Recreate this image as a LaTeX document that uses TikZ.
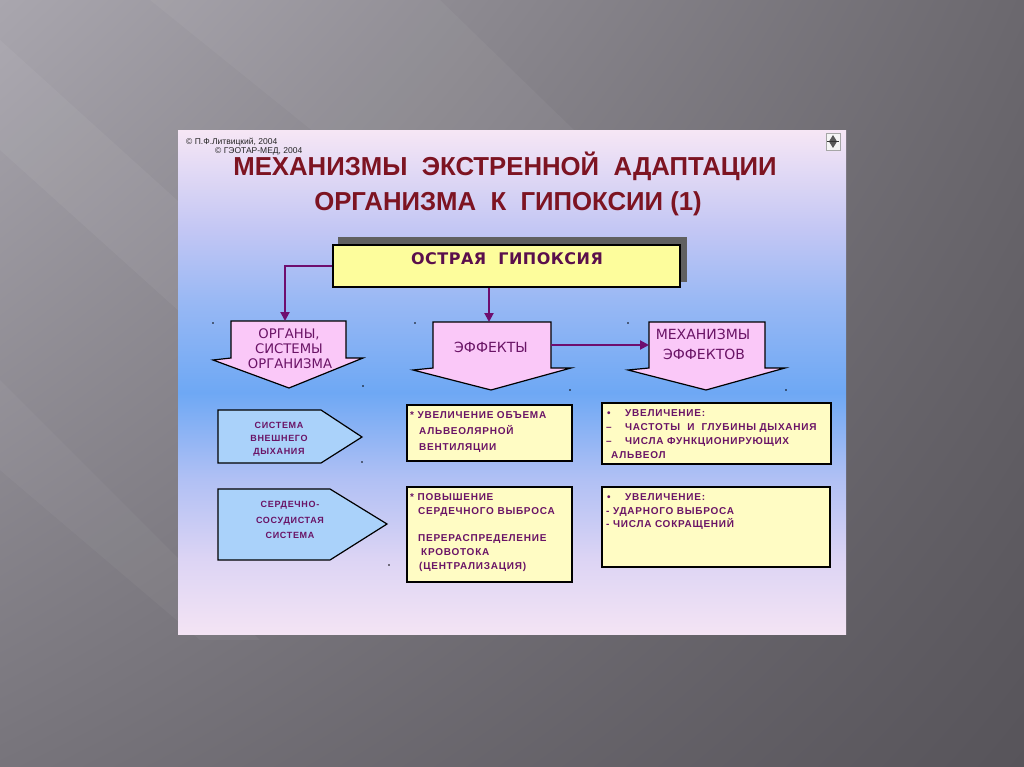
\documentclass[tikz,border=0pt]{standalone}
\usepackage{fontspec}
\setmainfont{Liberation Sans}
\newfontfamily\nar[FakeStretch=0.99]{Liberation Sans}
\newfontfamily\spc[LetterSpace=7.5]{Liberation Sans}
\newfontfamily\wide{DejaVu Sans}
\newfontfamily\widesp[LetterSpace=3]{DejaVu Sans}
\usetikzlibrary{arrows.meta,shadings}
\definecolor{bgUL}{HTML}{A9A6AE}
\definecolor{bgUR}{HTML}{6B686E}
\definecolor{bgLL}{HTML}{77747B}
\definecolor{bgLR}{HTML}{57545A}
\definecolor{titlered}{HTML}{7D1422}
\definecolor{txtpurple}{HTML}{6A1466}
\definecolor{acutetxt}{HTML}{5A0F4C}
\definecolor{connpurple}{HTML}{6E0E6E}
\definecolor{pinkfill}{HTML}{FAC8F8}
\definecolor{bluefill}{HTML}{AAD2FA}
\definecolor{yellowfill}{HTML}{FFFCC4}
\definecolor{acutefill}{HTML}{FDFD9C}
\definecolor{sA}{HTML}{F4E4F4}
\definecolor{sB}{HTML}{DCD4F4}
\definecolor{sC}{HTML}{B0C0F4}
\definecolor{sD}{HTML}{6EA8F4}
\definecolor{sE}{HTML}{98B8F4}
\definecolor{sF}{HTML}{C2C6F4}
\definecolor{sG}{HTML}{F6E6F5}
\pgfdeclareverticalshading{slidegrad}{100bp}{color(0bp)=(sA); color(25bp)=(sA); color(32.5bp)=(sB); color(40.5bp)=(sC); color(49bp)=(sD); color(58bp)=(sE); color(65bp)=(sF); color(75bp)=(sG); color(100bp)=(sG)}
\begin{document}
\begin{tikzpicture}[x=1pt,y=-1pt,
  conn/.style={draw=connpurple, line width=2pt, -{Triangle[length=9pt,width=9pt]}},
  downarrow/.style={draw=black, line width=1.2pt, fill=pinkfill, line join=miter},
  pent/.style={draw=black, line width=1.2pt, fill=bluefill},
  infobox/.style={draw=black, line width=1.2pt, fill=yellowfill},
  boxline/.style={font=\spc\bfseries\fontsize{10}{12}\selectfont, text=txtpurple, anchor=base west, inner sep=0pt},
  pentline/.style={font=\spc\bfseries\fontsize{9}{11}\selectfont, text=txtpurple, anchor=base, inner sep=0pt},
  arrline/.style={font=\wide\fontsize{14}{16}\selectfont, text=txtpurple, anchor=base, inner sep=0pt},
  orgline/.style={font=\wide\fontsize{13.2}{15}\selectfont, text=txtpurple, anchor=base, inner sep=0pt},
  titleline/.style={font=\nar\bfseries\fontsize{26}{30}\selectfont, text=titlered, anchor=base, inner sep=0pt},
  copyline/.style={font=\fontsize{8.5}{9}\selectfont, text=black!85, anchor=base west, inner sep=0pt},
  dot/.style={fill=black, circle, inner sep=0pt, minimum size=1.6pt}]
\useasboundingbox (0,0) rectangle (1024,767);
% background
\shade[upper left=bgUL, upper right=bgUR, lower left=bgLL, lower right=bgLR] (0,0) rectangle (1024,767);
\fill[white, opacity=0.05] (0,40) -- (0,150) -- (300,420) -- (420,420) -- cycle;
\fill[white, opacity=0.045] (150,0) -- (440,0) -- (780,330) -- (560,330) -- cycle;
\fill[white, opacity=0.04] (0,380) -- (0,470) -- (200,640) -- (260,640) -- cycle;
% slide
\shade[shading=slidegrad] (178,131) rectangle (846,634);
% icon
\draw[gray!70, fill=white!92!gray, line width=0.6pt] (826,133) rectangle (840,150);
\fill[gray!70!black] (833,135) -- (837,141.5) -- (833,148) -- (829,141.5) -- cycle;
\draw[gray!40!black, line width=0.6pt] (827,141.5) -- (839,141.5);
% copyright
\node[copyline] (c1) at (186,145) {© П.Ф.Литвицкий, 2004};
\node[copyline] (c2) at (215,154) {© ГЭОТАР-МЕД, 2004};
% title
\node[titleline] (t1) at (505,176) {МЕХАНИЗМЫ\ \ ЭКСТРЕННОЙ\ \ АДАПТАЦИИ};
\node[titleline] (t2) at (508,211) {ОРГАНИЗМА\ \ К\ \ ГИПОКСИИ (1)};
% acute hypoxia box
\fill[gray!75!black] (338,237) rectangle (687,282);
\node[draw=black, line width=2.5pt, fill=acutefill, minimum width=347pt, minimum height=42pt, inner sep=0pt] (acute) at (506.5,266) {};
\node[font=\widesp\bfseries\fontsize{16}{18}\selectfont, text=acutetxt, anchor=base, inner sep=0pt] (acutet) at (507,264) {ОСТРАЯ\ \ ГИПОКСИЯ};
% down arrows
\draw[downarrow] (231,321) -- (346,321) -- (346,358) -- (363,358) -- (289,388) -- (213,360) -- (231,358) -- cycle;
\draw[downarrow] (433,322) -- (551,322) -- (551,368) -- (571,368) -- (491,390) -- (413,370) -- (433,368) -- cycle;
\draw[downarrow] (649,322) -- (765,322) -- (765,368) -- (785,368) -- (706,390) -- (628,370) -- (649,368) -- cycle;
\coordinate (orgtop) at (285,321);
\coordinate (efftop) at (489,322);
\coordinate (effR) at (551,345);
\coordinate (mechL) at (649,345);
\node[orgline] (o1) at (289,338) {ОРГАНЫ,};
\node[orgline] (o2) at (289,353) {СИСТЕМЫ};
\node[orgline] (o3) at (290,368) {ОРГАНИЗМА};
\node[arrline] (e1) at (491,352) {ЭФФЕКТЫ};
\node[arrline] (m1) at (703,339) {МЕХАНИЗМЫ};
\node[arrline] (m2) at (704,359) {ЭФФЕКТОВ};
% connectors
\draw[conn] (acute.west) -| (orgtop);
\draw[conn] (efftop |- acute.south) -- (efftop);
\draw[conn] (effR) -- (mechL);
% pentagons
\draw[pent] (218,410) -- (321,410) -- (362,437) -- (321,463) -- (218,463) -- cycle;
\draw[pent] (218,489) -- (330,489) -- (387,524) -- (330,560) -- (218,560) -- cycle;
\node[pentline] (p1) at (279,428) {СИСТЕМА};
\node[pentline] (p2) at (279,441) {ВНЕШНЕГО};
\node[pentline] (p3) at (279,454) {ДЫХАНИЯ};
\node[pentline] (q1) at (290,507) {СЕРДЕЧНО-};
\node[pentline] (q2) at (290,523) {СОСУДИСТАЯ};
\node[pentline] (q3) at (290,538) {СИСТЕМА};
% info boxes
\draw[infobox] (407,405) rectangle (572,461);
\draw[infobox] (602,403) rectangle (831,464);
\draw[infobox] (407,487) rectangle (572,582);
\draw[infobox] (602,487) rectangle (830,567);
\node[boxline] (a1) at (410,418) {* УВЕЛИЧЕНИЕ ОБЪЕМА};
\node[boxline] (a2) at (419,434) {АЛЬВЕОЛЯРНОЙ};
\node[boxline] (a3) at (419,450) {ВЕНТИЛЯЦИИ};
\node[boxline] (b0) at (607,416) {•};
\node[boxline] (b1) at (625,416) {УВЕЛИЧЕНИЕ:};
\node[boxline] (b2d) at (606,430) {–};
\node[boxline] (b2) at (625,430) {ЧАСТОТЫ\ \ И\ \ ГЛУБИНЫ ДЫХАНИЯ};
\node[boxline] (b3d) at (606,444) {–};
\node[boxline] (b3) at (625,444) {ЧИСЛА ФУНКЦИОНИРУЮЩИХ};
\node[boxline] (b4) at (611,458) {АЛЬВЕОЛ};
\node[boxline] (c1l) at (410,500) {* ПОВЫШЕНИЕ};
\node[boxline] (c2l) at (418,514) {СЕРДЕЧНОГО ВЫБРОСА};
\node[boxline] (c3l) at (418,541) {ПЕРЕРАСПРЕДЕЛЕНИЕ};
\node[boxline] (c4l) at (421,555) {КРОВОТОКА};
\node[boxline] (c5l) at (419,569) {(ЦЕНТРАЛИЗАЦИЯ)};
\node[boxline] (d0) at (607,500) {•};
\node[boxline] (d1) at (625,500) {УВЕЛИЧЕНИЕ:};
\node[boxline] (d2) at (606,514) {- УДАРНОГО ВЫБРОСА};
\node[boxline] (d3) at (606,527) {- ЧИСЛА СОКРАЩЕНИЙ};
% stray dots
\node[dot] (x1) at (213,323) {};
\node[dot] (x2) at (415,323) {};
\node[dot] (x3) at (628,323) {};
\node[dot] (x4) at (363,386) {};
\node[dot] (x5) at (570,390) {};
\node[dot] (x6) at (786,390) {};
\node[dot] (x7) at (362,462) {};
\node[dot] (x8) at (389,565) {};
\end{tikzpicture}
\end{document}
